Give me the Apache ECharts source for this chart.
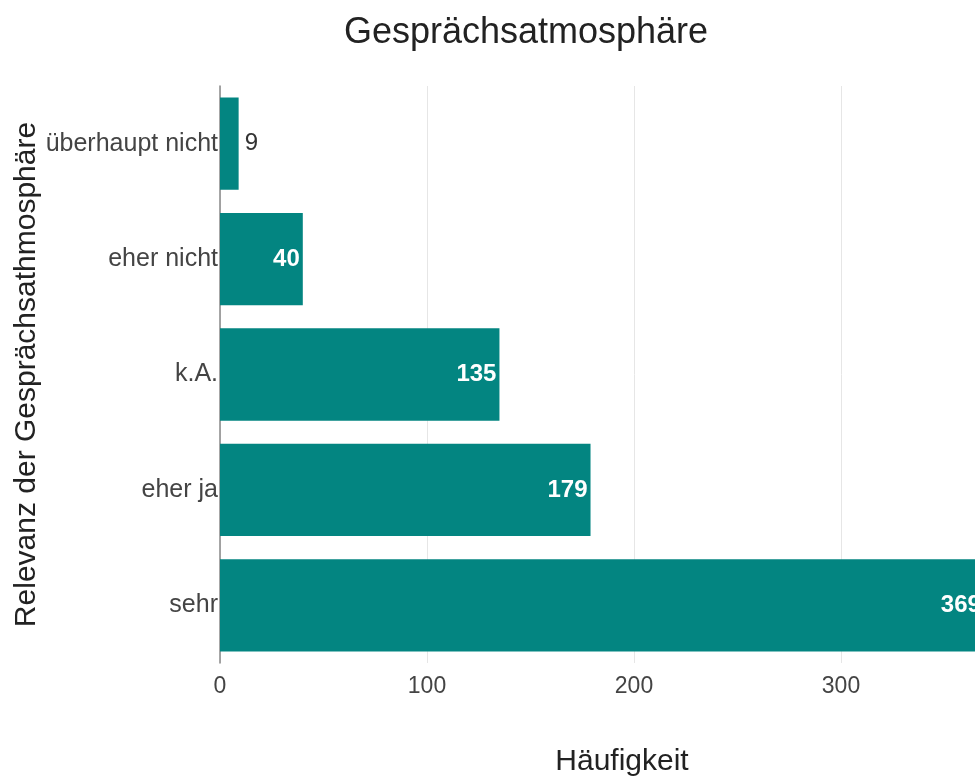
<!DOCTYPE html>
<html>
<head>
<meta charset="utf-8">
<script src="https://cdn.jsdelivr.net/npm/echarts@6/dist/echarts.min.js"></script>
<style>
  html, body { margin: 0; padding: 0; background: #fff; overflow: hidden; }
  /* the original plot runs past the right edge of the picture */
  #chart { width: 1100px; height: 778px; }
</style>
</head>
<body>
<div id="chart"></div>
<script>
var chart = echarts.init(document.getElementById('chart'));

var categories = ['überhaupt nicht', 'eher nicht', 'k.A.', 'eher ja', 'sehr'];
var values = [9, 40, 135, 179, 369];
var xTicks = [0, 100, 200, 300, 400];

var font = '"Liberation Sans", Arial, sans-serif';
var barColor = '#038581';

// small bars get the label outside, the rest inside in white
var bar_data = [];
for (var i = 0; i < values.length; i++) {
    var small = values[i] < 20;
    bar_data.push({
        value: values[i],
        label: {
            position: small ? 'right' : 'insideRight',
            color: small ? '#333' : '#fff',
            fontWeight: small ? 'normal' : 'bold',
            distance: small ? 6 : 3
        }
    });
}

var option = {
    animation: false,
    title: {
        text: 'Gesprächsatmosphäre',
        left: 521,
        top: 10,
        textAlign: 'center',
        textStyle: { fontFamily: font, fontSize: 36, fontWeight: 'normal', color: '#222' }
    },
    grid: {
        left: 220,
        top: 86,
        right: 52,
        height: 577,
        containLabel: false,
        outerBoundsMode: 'none'
    },
    xAxis: {
        type: 'value',
        min: xTicks[0],
        max: xTicks[xTicks.length - 1],
        interval: 100,
        name: 'Häufigkeit',
        nameLocation: 'middle',
        nameGap: 84,
        nameTextStyle: { fontFamily: font, fontSize: 30, color: '#222', padding: [0, 24, 0, 0] },
        axisLine: { show: false },
        axisTick: { show: false },
        axisLabel: { fontFamily: font, fontSize: 23, color: '#444', margin: 12 },
        splitLine: { show: true, lineStyle: { color: '#e6e6e6', width: 1 } }
    },
    yAxis: {
        type: 'category',
        inverse: true,
        data: categories,
        name: 'Relevanz der Gesprächsathmosphäre',
        nameLocation: 'middle',
        nameGap: 178,
        nameMoveOverlap: false,
        nameTextStyle: { fontFamily: font, fontSize: 30, color: '#222' },
        axisLine: { show: true, lineStyle: { color: '#888', width: 1.5 } },
        axisTick: { show: false },
        axisLabel: { fontFamily: font, fontSize: 25, color: '#444', margin: 2 },
        splitLine: { show: false }
    },
    series: [{
        type: 'bar',
        data: bar_data,
        barCategoryGap: '20%',
        itemStyle: { color: barColor },
        label: {
            show: true,
            fontFamily: font,
            fontSize: 24
        }
    }]
};

chart.setOption(option);
</script>
</body>
</html>
